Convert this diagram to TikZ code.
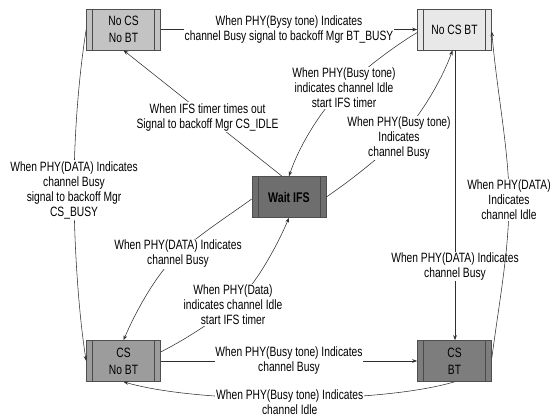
\documentclass[tikz,border=0pt]{standalone}
\usepackage{fontspec}
\setmainfont{Liberation Sans}[FakeStretch=0.76]
\usetikzlibrary{arrows.meta,calc}
\definecolor{cnn}{HTML}{C3C3C3}
\definecolor{cnb}{HTML}{E8E8E8}
\definecolor{cw}{HTML}{6E6E6E}
\definecolor{ccn}{HTML}{9C9C9C}
\definecolor{ccb}{HTML}{7D7D7D}
\definecolor{boxline}{HTML}{4F4F4F}
\definecolor{barline}{HTML}{4A4A4A}
\definecolor{linec}{HTML}{303030}
\begin{document}
\begin{tikzpicture}[x=1pt,y=-1pt,
  box/.style={draw=boxline, line width=0.6pt, minimum width=74pt, minimum height=41pt,
    inner sep=0pt, align=center, font=\fontsize{13.5}{17}\selectfont,
    path picture={
      \draw[barline,line width=0.7pt] ([xshift=6pt]path picture bounding box.north west) -- ([xshift=6pt]path picture bounding box.south west);
      \draw[barline,line width=0.7pt] ([xshift=-6pt]path picture bounding box.north east) -- ([xshift=-6pt]path picture bounding box.south east);}},
  lab/.style={fill=white, inner sep=0.8pt, align=center, font=\fontsize{13.5}{15}\selectfont},
  conn/.style={draw=linec, line width=0.55pt, -{Stealth[length=5pt,width=3.6pt]}}
]
\useasboundingbox (0,0) rectangle (557,418);

% states
\node[box, fill=cnn] (nn) at (123.5,29.5) {No CS\\No BT};
\node[box, fill=cnb] (nb) at (454.5,29.5) {No CS BT};
\node[box, fill=cw, font=\fontsize{14}{17}\selectfont\bfseries] (w) at (289,197) {Wait IFS};
\node[box, fill=ccn] (cn) at (123.5,361) {CS\\No BT};
\node[box, fill=ccb] (cb) at (454.5,361) {CS\\BT};

% label anchor points
\coordinate (p3) at (344,88);
\coordinate (p4) at (399,138);
\coordinate (p6) at (509,200);
\coordinate (p7) at (74,190);
\coordinate (p8) at (178,254);
\coordinate (p9) at (233,305);

% straight connectors
\draw[conn] (nn.east) -- node[lab]{When PHY(Bysy tone) Indicates\\channel Busy signal to backoff Mgr BT\_BUSY} (nb.west);
\draw[conn] ($(w.north)+(-7,0)$) -- node[lab,pos=0.47]{When IFS timer times out\\Signal to backoff Mgr CS\_IDLE} (nn.south);
\draw[conn] ($(nb.south)+(0.5,0)$) -- node[lab,pos=0.745]{When PHY(DATA) Indicates\\channel Busy} ($(cb.north)+(0.5,0)$);
\draw[conn] (cn.east) -- node[lab]{When PHY(Busy tone) Indicates\\channel Busy} (cb.west);

% curved connectors
\draw[conn] ($(nb.west)+(0,3)$) .. controls +(-25,15) and +(22,-20) .. (p3) .. controls +(-22,20) and +(10,-30) .. (w.north);
\draw[conn] (w.east) .. controls +(22,-15) and +(-22,22) .. (p4) .. controls +(22,-22) and +(-10,28) .. ($(nb.south)+(-2,0)$);
\draw[conn] (nn.west) .. controls +(-8,50) and +(0,-50) .. (p7) .. controls +(0,50) and +(-8,-50) .. (cn.west);
\draw[conn] ($(w.west)+(0,2)$) .. controls +(-25,18) and +(22,-20) .. (p8) .. controls +(-22,20) and +(12,-28) .. (cn.north);
\draw[conn] ($(cn.east)+(0,-9)$) .. controls +(25,-13) and +(-22,18) .. (p9) .. controls +(22,-18) and +(-12,28) .. (w.south);
\draw[conn] (cb.south) .. controls (380,404) and (200,404) .. node[lab,pos=0.5,yshift=-3.5pt]{When PHY(Busy tone) Indicates\\channel Idle} (cn.south);

% labels of curved connectors
\node[lab] (l3) at (p3) {When PHY(Busy tone)\\indicates channel Idle\\start IFS timer};
\node[lab] (l4) at (p4) {When PHY(Busy tone)\\Indicates\\channel Busy};
\node[lab] (l7) at (p7) {When PHY(DATA) Indicates\\channel Busy\\signal to backoff Mgr\\CS\_BUSY};
\node[lab] (l8) at (p8) {When PHY(DATA) Indicates\\channel Busy};
\node[lab] (l9) at (p9) {When PHY(Data)\\indicates channel Idle\\start IFS timer};

% right-hand connector (crosses the vertical label)
\draw[conn] ($(cb.east)+(0,-3)$) .. controls +(8,-60) and +(0,50) .. (p6) .. controls +(0,-50) and +(5,60) .. ($(nb.east)+(0,2)$);
\node[lab] (l6) at (p6) {When PHY(DATA)\\Indicates\\channel Idle};
\end{tikzpicture}
\end{document}
